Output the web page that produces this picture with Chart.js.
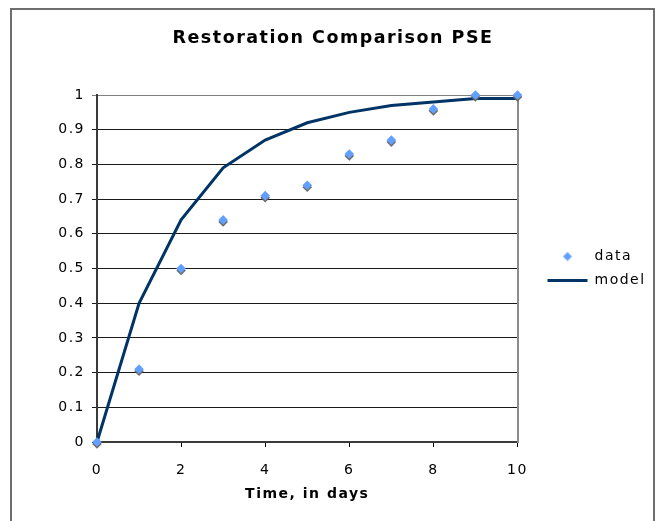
<!DOCTYPE html>
<html>
<head>
<meta charset="utf-8">
<script src="https://cdn.jsdelivr.net/npm/chart.js@4.4.1/dist/chart.umd.min.js"></script>
<style>
  html, body { margin: 0; padding: 0; background: #fff; }
</style>
</head>
<body>
<canvas id="pseChart" width="658" height="521"></canvas>
<script>
// --- Chart data ---
const days = [0, 1, 2, 3, 4, 5, 6, 7, 8, 9, 10];
const dataValues = [0, 0.21, 0.50, 0.64, 0.71, 0.74, 0.83, 0.87, 0.96, 1.00, 1.00];
const modelValues = [0, 0.40, 0.64, 0.79, 0.87, 0.92, 0.95, 0.97, 0.98, 0.99, 0.99];
const xTicks = [0, 2, 4, 6, 8, 10];
const yTicks = [0, 0.1, 0.2, 0.3, 0.4, 0.5, 0.6, 0.7, 0.8, 0.9, 1];

const dataColor = '#62a0ff';
const modelColor = '#003366';
const font = 'DejaVu Sans';

// small diamond used as the legend marker for "data"
const diamond = document.createElement('canvas');
diamond.width = 10;
diamond.height = 10;
const dctx = diamond.getContext('2d');
dctx.fillStyle = dataColor;
dctx.beginPath();
dctx.moveTo(5, 0.5);
dctx.lineTo(9.5, 5);
dctx.lineTo(5, 9.5);
dctx.lineTo(0.5, 5);
dctx.closePath();
dctx.fill();

// --- Plugins ---
const frame = {
  id: 'frame',
  beforeUpdate(chart) { chart.ctx.letterSpacing = '1.5px'; },
  afterLayout(chart) {
    // centre the title on the outer frame rather than the canvas
    if (chart.titleBlock) chart.titleBlock.left = 21;
  },
  beforeDraw(chart) {
    const ctx = chart.ctx;
    ctx.save();
    ctx.fillStyle = '#fff';
    ctx.fillRect(0, 0, chart.width, chart.height);
    ctx.strokeStyle = '#6e6e6e';
    ctx.lineWidth = 2;
    ctx.strokeRect(11, 9, 643, 600);
    ctx.restore();
    ctx.letterSpacing = '1.5px';
  }
};

const markerShadow = {
  id: 'markerShadow',
  beforeDatasetDraw(chart, args) {
    if (args.index !== 0) return;
    const ctx = chart.ctx;
    ctx.save();
    ctx.shadowColor = 'rgba(100, 100, 100, 0.95)';
    ctx.shadowBlur = 0;
    ctx.shadowOffsetX = 0;
    ctx.shadowOffsetY = 2;
  },
  afterDatasetDraw(chart, args) {
    if (args.index !== 0) return;
    chart.ctx.restore();
  }
};

// --- Initialize Chart ---
const ctx = document.getElementById('pseChart').getContext('2d');
new Chart(ctx, {
  type: 'scatter',
  data: {
    datasets: [{
      label: 'data',
      data: days.map((d, i) => ({ x: d, y: dataValues[i] })),
      pointStyle: 'rectRot',
      pointRadius: 4.8,
      pointBackgroundColor: dataColor,
      pointBorderWidth: 0,
      borderColor: dataColor,
      showLine: false,
      clip: false
    }, {
      label: 'model',
      data: days.map((d, i) => ({ x: d, y: modelValues[i] })),
      showLine: true,
      borderColor: modelColor,
      backgroundColor: modelColor,
      borderWidth: 3,
      pointRadius: 0,
      pointStyle: 'line',
      tension: 0,
      clip: false
    }]
  },
  options: {
    responsive: false,
    animation: false,
    devicePixelRatio: 1,
    color: '#000',
    layout: { padding: { top: 0, left: 0, right: 13, bottom: 0 } },
    plugins: {
      tooltip: { enabled: false },
      title: {
        display: true,
        text: 'Restoration Comparison PSE',
        color: '#000',
        font: { family: font, size: 17.5, weight: 'bold' },
        padding: { top: 28, bottom: 46 }
      },
      legend: {
        position: 'right',
        fullSize: false,
        labels: {
          color: '#000',
          font: { family: font, size: 14 },
          usePointStyle: true,
          pointStyleWidth: 40,
          padding: 10,
          generateLabels(chart) {
            const items = Chart.defaults.plugins.legend.labels.generateLabels(chart);
            items.forEach(item => {
              if (item.datasetIndex === 0) item.pointStyle = diamond;
            });
            return items;
          }
        }
      }
    },
    scales: {
      x: {
        type: 'linear',
        min: 0,
        max: 10,
        afterBuildTicks: scale => { scale.ticks = xTicks.map(v => ({ value: v })); },
        afterFit: scale => { scale.height = 79; },
        grid: { drawOnChartArea: false, drawTicks: true, tickLength: 5, color: '#000' },
        border: { color: '#3a3a3a', width: 2 },
        ticks: { color: '#000', padding: 15, font: { family: font, size: 14 }, maxRotation: 0 },
        title: {
          display: true,
          text: 'Time, in days',
          color: '#000',
          font: { family: font, size: 14, weight: 'bold' },
          padding: { top: 0, bottom: 18 }
        }
      },
      y: {
        min: 0,
        max: 1,
        afterBuildTicks: scale => { scale.ticks = yTicks.map(v => ({ value: v })); },
        afterFit: scale => { scale.width = 97; },
        grid: {
          tickLength: 5,
          color: c => (c.tick && c.tick.value === 1 ? '#808080' : '#1a1a1a')
        },
        border: { color: '#3a3a3a', width: 2 },
        ticks: {
          color: '#000',
          padding: 7,
          font: { family: font, size: 14 },
          callback: value => String(Number(value.toFixed(1)))
        }
      },
      edge: {
        type: 'linear',
        position: 'right',
        display: true,
        grid: { display: false, drawTicks: false },
        ticks: { display: false },
        border: { display: true, color: '#8c8c8c', width: 2 },
        afterFit: scale => { scale.width = 20; }
      }
    }
  },
  plugins: [frame, markerShadow]
});
</script>
</body>
</html>
